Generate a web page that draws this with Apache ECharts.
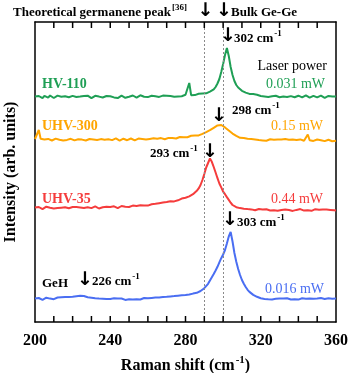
<!DOCTYPE html>
<html>
<head>
<meta charset="utf-8">
<script src="https://cdn.jsdelivr.net/npm/echarts@6/dist/echarts.min.js"></script>
<style>
  html, body { margin: 0; padding: 0; background: #fff; }
  #c-raman { width: 350px; height: 373px; }
</style>
</head>
<body>
<div id="c-raman"></div>
<script>
// Raman shift grid (cm-1), 1 cm-1 steps
var ramanShift = [];
for (var s = 200; s <= 360; s++) ramanShift.push(s);

var refLines = [290, 300]; // theoretical germanene / bulk Ge-Ge
var tickValues = [210, 220, 230, 240, 250, 260, 270, 280, 290, 300, 310, 320, 330, 340, 350];

// intensities (arb. units, already stacked)
var hv110 = [
  225.5, 224, 226, 225, 223.8, 226.2, 225, 224.3, 226.5, 225.2,
  224, 225.8, 226.4, 224.6, 225.3, 223.9, 225.7, 226.8, 224.8, 225.5,
  226.1, 224.2, 225, 226.6, 225.4, 224.1, 225.9, 224.7, 226.3, 225.1,
  223.8, 225.6, 226.2, 224.9, 225.4, 226.9, 224.5, 225.2, 226, 224.3,
  225.7, 226.4, 224.6, 225.1, 223.9, 225.8, 226.3, 225, 224.2, 226.1,
  225.3, 224.7, 226.5, 225.6, 224.4, 225.9, 226.7, 224.8, 225.2, 226.2,
  224.9, 225.7, 226.3, 224.5, 225.8, 226.6, 225.1, 224.6, 226.4, 225.5,
  226.2, 224.8, 225.9, 226.7, 225.2, 226.4, 225.5, 226.9, 225.8, 226.3,
  227.2, 226.5, 239, 226.8, 227.3, 226.9, 227.8, 228.2, 227.5, 228.6,
  229.1, 228.7, 229.8, 230.4, 231, 232.6, 235, 238.5, 243, 250,
  258, 267, 274, 266, 255, 247, 241, 237, 234.5, 232.8,
  231.2, 230.5, 229.4, 228.9, 228.1, 227.6, 227.9, 226.8, 227.2, 226.5,
  226, 226.8, 225.6, 226.3, 225.1, 226.4, 225.8, 224.9, 226.2, 225.5,
  224.7, 226.1, 225.4, 226.6, 225, 224.3, 225.9, 226.5, 224.8, 225.6,
  226.3, 225.2, 224.6, 225.9, 226.7, 225.1, 224.4, 225.8, 226.2, 225,
  224.6, 225.7, 226.4, 225.3, 224.2, 225.9, 226.1, 224.8, 225.5, 226.3,
  225.4
];
var uhv300 = [
  183, 184.5, 192, 183.2, 181.8, 182.6, 181.2, 183.1, 182.4, 181.5,
  182.8, 183.4, 181.7, 182.2, 183.6, 181.4, 182.9, 182.1, 181.3, 183.2,
  182.5, 181.6, 183.3, 182.7, 181.9, 182.4, 183.7, 181.5, 182.2, 183,
  181.8, 182.6, 183.4, 182, 181.3, 182.9, 183.5, 182.3, 181.7, 182.8,
  183.2, 181.9, 182.5, 183.6, 182.1, 181.4, 182.8, 183.3, 182.2, 181.8,
  182.9, 183.5, 182.3, 181.6, 182.7, 183.4, 182, 182.9, 183.6, 182.4,
  181.9, 183.1, 182.6, 183.8, 182.3, 183.2, 182.8, 183.9, 183.1, 182.7,
  183.6, 184.1, 183.2, 183.9, 184.4, 183.5, 184.2, 185, 184.1, 184.8,
  185.3, 184.7, 185.6, 186.2, 185.5, 186.4, 187.1, 186.6, 187.5, 188.2,
  188.8, 189.9, 191, 191.8, 193.1, 194.2, 195.5, 196.6, 195.8, 197,
  195.4, 194.6, 192.9, 191.5, 189.8, 188.4, 187.6, 186.1, 185.4, 184.2,
  183.5, 183.9, 182.6, 183.2, 182.3, 182.9, 181.7, 182.5, 183, 181.9,
  182.4, 181.6, 182.8, 181.3, 182.1, 182.7, 181.5, 182.3, 181.1, 182.6,
  181.8, 182.4, 181.2, 182.9, 181.6, 182.2, 181, 182.5, 181.7, 182.1,
  181.4, 182.6, 181.9, 181.2, 182.3, 187.5, 181.8, 182.4, 181.1, 181.9,
  182.5, 181.3, 181.8, 182.2, 180.9, 181.7, 182.3, 181.4, 180.8, 181.6,
  181.2
];
var uhv35 = [
  114.5, 113.2, 115, 114.1, 112.8, 114.6, 115.3, 113.7, 114.2, 115.1,
  113.5, 114.8, 113.9, 115.4, 114.3, 112.9, 114.7, 115.2, 113.8, 114.4,
  115, 113.6, 114.9, 113.3, 114.6, 115.5, 114, 113.4, 114.8, 115.2,
  113.9, 114.5, 115.6, 114.2, 113.5, 115, 114.7, 113.8, 115.3, 114.6,
  115.1, 114, 115.7, 114.8, 113.9, 115.4, 116, 114.6, 115.2, 116.1,
  115, 115.8, 116.4, 115.3, 116.1, 115.6, 116.7, 115.9, 116.5, 117.2,
  116.4, 117, 117.8, 116.9, 118.2, 117.6, 118.8, 118.1, 119.4, 118.9,
  120, 119.5, 120.8, 121.3, 120.6, 122, 121.7, 122.9, 123.4, 122.8,
  124.2, 124.8, 125.6, 126.9, 127.8, 129.5, 131.2, 133.6, 137, 142,
  148, 154.5, 159, 163.5, 160.2, 155, 149.5, 143.8, 138.5, 134.6,
  130.4, 127.8, 124.9, 122.1, 119.3, 117, 115.6, 114.8, 113.6, 113.9,
  112.7, 113.3, 112.1, 112.9, 111.8, 112.6, 113.1, 111.7, 112.4, 113,
  111.9, 112.5, 111.3, 112.8, 112.2, 111.5, 112.9, 111.8, 112.4, 111.2,
  112.7, 112, 111.4, 112.6, 113.1, 111.9, 112.3, 111.1, 112.8, 112.1,
  111.6, 112.9, 112.3, 111.4, 112.7, 111.8, 112.5, 111.2, 112, 112.8,
  111.5, 112.2, 111, 112.6, 111.9, 112.4, 111.3, 112.1, 110.8, 111.7,
  111.4
];
var geH = [
  23.5, 22.4, 24, 23.1, 22.2, 23.8, 24.3, 22.9, 23.4, 24.1,
  22.8, 23.9, 24.5, 23.2, 24.7, 23.6, 24.9, 24.2, 25.1, 24.4,
  25.3, 24.6, 25.8, 25, 26.2, 25.4, 26, 25.1, 24.7, 25.6,
  24.3, 24.9, 23.8, 24.5, 23.4, 24.1, 23.3, 23.9, 22.9, 23.6,
  23.1, 22.6, 23.7, 22.8, 23.4, 22.3, 23.5, 22.9, 22.1, 23.2,
  22.7, 23.6, 22.4, 23.1, 22.8, 23.9, 22.5, 23.3, 24, 22.9,
  23.7, 23.2, 24.1, 23.5, 24.4, 23.8, 24.6, 24.2, 25, 24.5,
  25.2, 24.8, 25.6, 25.1, 25.9, 25.4, 26.3, 25.8, 26.7, 26.2,
  27, 26.6, 27.5, 27.9, 28.4, 28.1, 29.2, 30.3, 31, 32.4,
  33.8, 35.5, 38.2, 41.6, 44.8, 48, 51.5, 55.2, 59.6, 63.8,
  67.5, 72, 78.6, 85.5, 90, 80.5, 69, 60.2, 53, 47,
  42, 38.3, 35, 32.2, 30.1, 28.4, 27.1, 26, 25.2, 24.6,
  23.7, 24.3, 23.1, 23.9, 22.8, 23.5, 22.6, 23.8, 23.2, 22.7,
  23.6, 22.9, 23.4, 22.3, 23.8, 23, 22.5, 23.6, 22.8, 23.3,
  22.4, 23.1, 23.7, 22.6, 23.3, 22.2, 23.5, 22.9, 23.2, 22.5,
  23.4, 22.7, 23.9, 22.6, 23.1, 22.4, 23.7, 22.8, 23.3, 22.6,
  23.4
];

var FONT = 'Liberation Serif';
var GREEN = '#1f9f55', ORANGE = '#ffa500', RED = '#f53c3c', BLUE = '#4a6ef2';
var Y_MIN = 0, Y_MAX = 300, TICK_LEN = 6;

var pairs = function(vals) {
  return ramanShift.map(function(x, i) { return [x, vals[i]]; });
};

// rich text: normal + superscript
var supRich = function(size, color, weight) {
  return {
    n: { fontFamily: FONT, fontSize: size, fontWeight: weight, color: color, lineHeight: size + 3, verticalAlign: 'bottom' },
    s: { fontFamily: FONT, fontSize: Math.round(size * 0.68), fontWeight: weight, color: color, verticalAlign: 'top', padding: [0, 0, 0, 1] }
  };
};

var txt = function(x, y, text, color, size, weight, align) {
  return {
    type: 'text', x: x, y: y, z: 100,
    style: {
      text: text, fill: color, align: align || 'left', verticalAlign: 'middle',
      font: (weight || 'normal') + ' ' + size + 'px "' + FONT + '"',
      rich: supRich(size, color, weight || 'normal')
    }
  };
};
var arrow = function(x, y) {
  return {
    type: 'text', x: x, y: y, z: 100,
    style: { text: '↓', fill: '#000', align: 'center', verticalAlign: 'middle', font: 'bold 19px "DejaVu Sans"' }
  };
};

var chart = echarts.init(document.getElementById('c-raman'));

var frameY = function(pos) {
  return {
    type: 'value', min: Y_MIN, max: Y_MAX, position: pos,
    axisLine: { show: true, onZero: false, lineStyle: { color: '#000', width: 1.5 } },
    axisTick: { show: false }, axisLabel: { show: false }, splitLine: { show: false }
  };
};

var leftAxis = frameY('left');
leftAxis.name = 'Intensity (arb. units)';
leftAxis.nameLocation = 'middle';
leftAxis.nameGap = 16;
leftAxis.nameTextStyle = { fontFamily: FONT, fontWeight: 'bold', fontSize: 16, color: '#000' };

var labels = [
  txt(13, 11, '{n|Theoretical germanene peak}{s|[36]}', '#000', 13, 'bold'),
  arrow(205.5, 11), arrow(224, 11),
  txt(231, 11, '{n|Bulk Ge-Ge}', '#000', 13, 'bold'),
  arrow(228, 36), txt(234, 37, '{n|302 cm}{s|-1}', '#000', 13, 'bold'),
  txt(327, 65, '{n|Laser power}', '#000', 14, 'normal', 'right'),
  txt(42, 83, '{n|HV-110}', GREEN, 14, 'bold'),
  txt(325, 83, '{n|0.031 mW}', GREEN, 14, 'normal', 'right'),
  arrow(219, 116), txt(232, 109, '{n|298 cm}{s|-1}', '#000', 13, 'bold'),
  txt(42, 125, '{n|UHV-300}', ORANGE, 14, 'bold'),
  txt(323, 125, '{n|0.15 mW}', ORANGE, 14, 'normal', 'right'),
  txt(150, 152, '{n|293 cm}{s|-1}', '#000', 13, 'bold'), arrow(210, 152),
  txt(42, 198, '{n|UHV-35}', RED, 14, 'bold'),
  txt(323, 198, '{n|0.44 mW}', RED, 14, 'normal', 'right'),
  arrow(230, 220), txt(237, 221, '{n|303 cm}{s|-1}', '#000', 13, 'bold'),
  txt(42, 282, '{n|GeH}', '#000', 13, 'bold'),
  arrow(85, 280), txt(92, 280, '{n|226 cm}{s|-1}', '#000', 13, 'bold'),
  txt(324, 288, '{n|0.016 mW}', BLUE, 14, 'normal', 'right')
];

var option = {
  animation: false,
  backgroundColor: '#fff',
  grid: { left: 35, right: 14, top: 22, bottom: 51, outerBoundsMode: 'none', containLabel: false },
  xAxis: [
    {
      type: 'value', min: 200, max: 360, interval: 40, position: 'bottom',
      axisLine: { show: true, onZero: false, lineStyle: { color: '#000', width: 1.5 } },
      axisTick: { show: false }, splitLine: { show: false },
      axisLabel: { margin: 11, color: '#000', fontFamily: FONT, fontWeight: 'bold', fontSize: 16, showMinLabel: true, showMaxLabel: true },
      name: '{n|Raman shift (cm}{s|-1}{n|)}', nameLocation: 'middle', nameGap: 33,
      nameTextStyle: { rich: supRich(16, '#000', 'bold') }
    },
    {
      type: 'value', min: 200, max: 360, position: 'top',
      axisLine: { show: true, onZero: false, lineStyle: { color: '#000', width: 1.5 } },
      axisTick: { show: false }, axisLabel: { show: false }, splitLine: { show: false }
    }
  ],
  yAxis: [leftAxis, frameY('right')],
  series: [
    {
      type: 'line', name: 'GeH', data: pairs(geH), symbol: 'none',
      lineStyle: { color: BLUE, width: 2 }, z: 3,
      markLine: {
        silent: true, symbol: 'none', label: { show: false },
        lineStyle: { color: '#8a8a8a', type: [2, 2], width: 1 },
        data: refLines.map(function(v) { return { xAxis: v }; })
      }
    },
    { type: 'line', name: 'UHV-35', data: pairs(uhv35), symbol: 'none', lineStyle: { color: RED, width: 2 }, z: 3 },
    { type: 'line', name: 'UHV-300', data: pairs(uhv300), symbol: 'none', lineStyle: { color: ORANGE, width: 2 }, z: 3 },
    { type: 'line', name: 'HV-110', data: pairs(hv110), symbol: 'none', lineStyle: { color: GREEN, width: 2 }, z: 3 }
  ],
  graphic: labels
};
chart.setOption(option);

// inside ticks every 10 cm-1 on bottom and top, placed through the chart's own scales
var tickLines = [];
tickValues.forEach(function(v) {
  var b0 = chart.convertToPixel({ xAxisIndex: 0, yAxisIndex: 0 }, [v, Y_MIN]);
  var t0 = chart.convertToPixel({ xAxisIndex: 0, yAxisIndex: 0 }, [v, Y_MAX]);
  tickLines.push({ type: 'line', z: 90, shape: { x1: b0[0], y1: b0[1], x2: b0[0], y2: b0[1] - TICK_LEN }, style: { stroke: '#000', lineWidth: 1.5 } });
  tickLines.push({ type: 'line', z: 90, shape: { x1: t0[0], y1: t0[1], x2: t0[0], y2: t0[1] + TICK_LEN }, style: { stroke: '#000', lineWidth: 1.5 } });
});
chart.setOption({ graphic: labels.concat(tickLines) });
</script>
</body>
</html>
